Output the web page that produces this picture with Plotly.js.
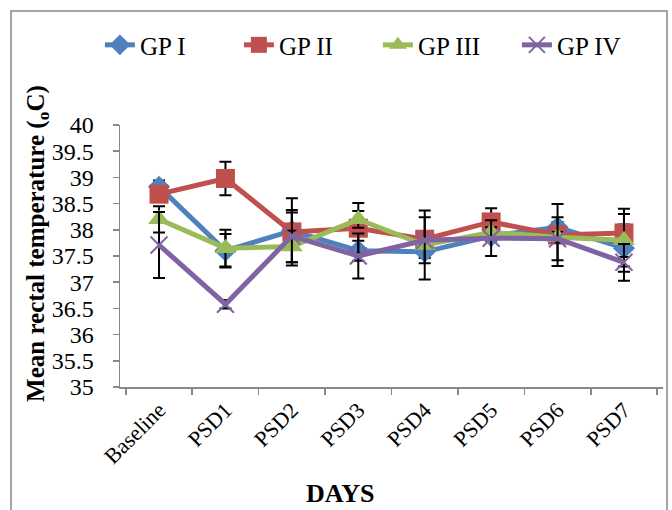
<!DOCTYPE html>
<html>
<head>
<meta charset="utf-8">
<script src="https://cdn.plot.ly/plotly-3.0.1.min.js"></script>
<style>html,body{margin:0;padding:0;background:#fff;}</style>
</head>
<body>
<div id="chart" style="width:672px;height:510px;"></div>
<script>
const days = ['Baseline','PSD1','PSD2','PSD3','PSD4','PSD5','PSD6','PSD7'];
const gp1 = [38.82, 37.60, 37.98, 37.60, 37.58, 37.88, 38.05, 37.65];
const gp1Err = [0.12, 0.32, 0.35, 0.19, 0.12, 0.10, 0.10, 0.45];
const gp2 = [38.68, 38.98, 37.96, 38.03, 37.82, 38.15, 37.90, 37.94];
const gp2Err = [0.10, 0.32, 0.64, 0.48, 0.10, 0.26, 0.59, 0.46];
const gp3 = [38.20, 37.65, 37.68, 38.20, 37.71, 37.95, 37.86, 37.80];
const gp3Err = [0.25, 0.35, 0.30, 0.16, 0.66, 0.10, 0.10, 0.50];
const gp4 = [37.71, 36.58, 37.88, 37.50, 37.80, 37.84, 37.83, 37.38];
const gp4Err = [0.63, 0.08, 0.50, 0.43, 0.44, 0.34, 0.41, 0.35];
const seriesNames = ['GP I','GP II','GP III','GP IV'];

const serif = 'Times New Roman';
function errBar(arr){return {type:'data', array:arr, visible:true, color:'#000', thickness:2, width:6};}

const traces = [
  {x:days, y:gp1, name:seriesNames[0], type:'scatter', mode:'lines+markers',
   line:{color:'#4F81BD', width:5}, marker:{symbol:'diamond', size:17, color:'#4F81BD'}, error_y:errBar(gp1Err)},
  {x:days, y:gp2, name:seriesNames[1], type:'scatter', mode:'lines+markers',
   line:{color:'#C0504D', width:5}, marker:{symbol:'square', size:19, color:'#C0504D'}, error_y:errBar(gp2Err)},
  {x:days, y:gp3, name:seriesNames[2], type:'scatter', mode:'lines+markers',
   line:{color:'#9BBB59', width:5}, marker:{symbol:'triangle-up', size:19, color:'#9BBB59'}, error_y:errBar(gp3Err)},
  {x:days, y:gp4, name:seriesNames[3], type:'scatter', mode:'lines+markers',
   line:{color:'#8064A2', width:5}, marker:{symbol:'x-thin', size:17, color:'#8064A2', line:{color:'#8064A2', width:2}}, error_y:errBar(gp4Err)}
];

const layout = {
  width:672, height:510,
  margin:{l:120, r:9, t:125, b:123},
  paper_bgcolor:'#fff', plot_bgcolor:'#fff',
  font:{family:serif, color:'#000'},
  showlegend:true,
  legend:{orientation:'h', x:-0.037, xanchor:'left', y:1.305, yanchor:'middle',
          font:{family:serif, size:25, color:'#000'}, bgcolor:'rgba(0,0,0,0)', entrywidth:94, traceorder:'normal'},
  xaxis:{type:'category', showgrid:false, zeroline:false, showline:true, linecolor:'#888', linewidth:1.5,
         ticks:'outside', tickson:'boundaries', ticklen:6, tickcolor:'#888', tickwidth:1.5,
         tickangle:-45, tickfont:{family:serif, size:22, color:'#000'}},
  yaxis:{range:[35,40], dtick:0.5, showgrid:false, zeroline:false, showline:true, linecolor:'#888', linewidth:1.5,
         ticks:'outside', ticklen:6, tickcolor:'#888', tickwidth:1.5, ticklabelstandoff:14,
         tickfont:{family:serif, size:24, color:'#000'}},
  annotations:[
    {text:'<b>Mean rectal temperature (<sub>o</sub>C)</b>', xref:'paper', yref:'paper', x:-0.151, y:0.546,
     textangle:-90, showarrow:false, font:{family:serif, size:25, color:'#000'}, xanchor:'center', yanchor:'middle'},
    {text:'<b>DAYS</b>', xref:'paper', yref:'paper', x:0.405, y:-0.405, showarrow:false,
     font:{family:serif, size:26, color:'#000'}, xanchor:'center', yanchor:'middle'}
  ],
  shapes:[
    {type:'rect', xref:'paper', yref:'paper', x0:-0.2007, x1:1.0074, y0:-0.48, y1:1.435,
     line:{color:'#888', width:1.5}, fillcolor:'rgba(0,0,0,0)', layer:'below'}
  ]
};

Plotly.newPlot('chart', traces, layout, {displayModeBar:false, staticPlot:true});
</script>
</body>
</html>
